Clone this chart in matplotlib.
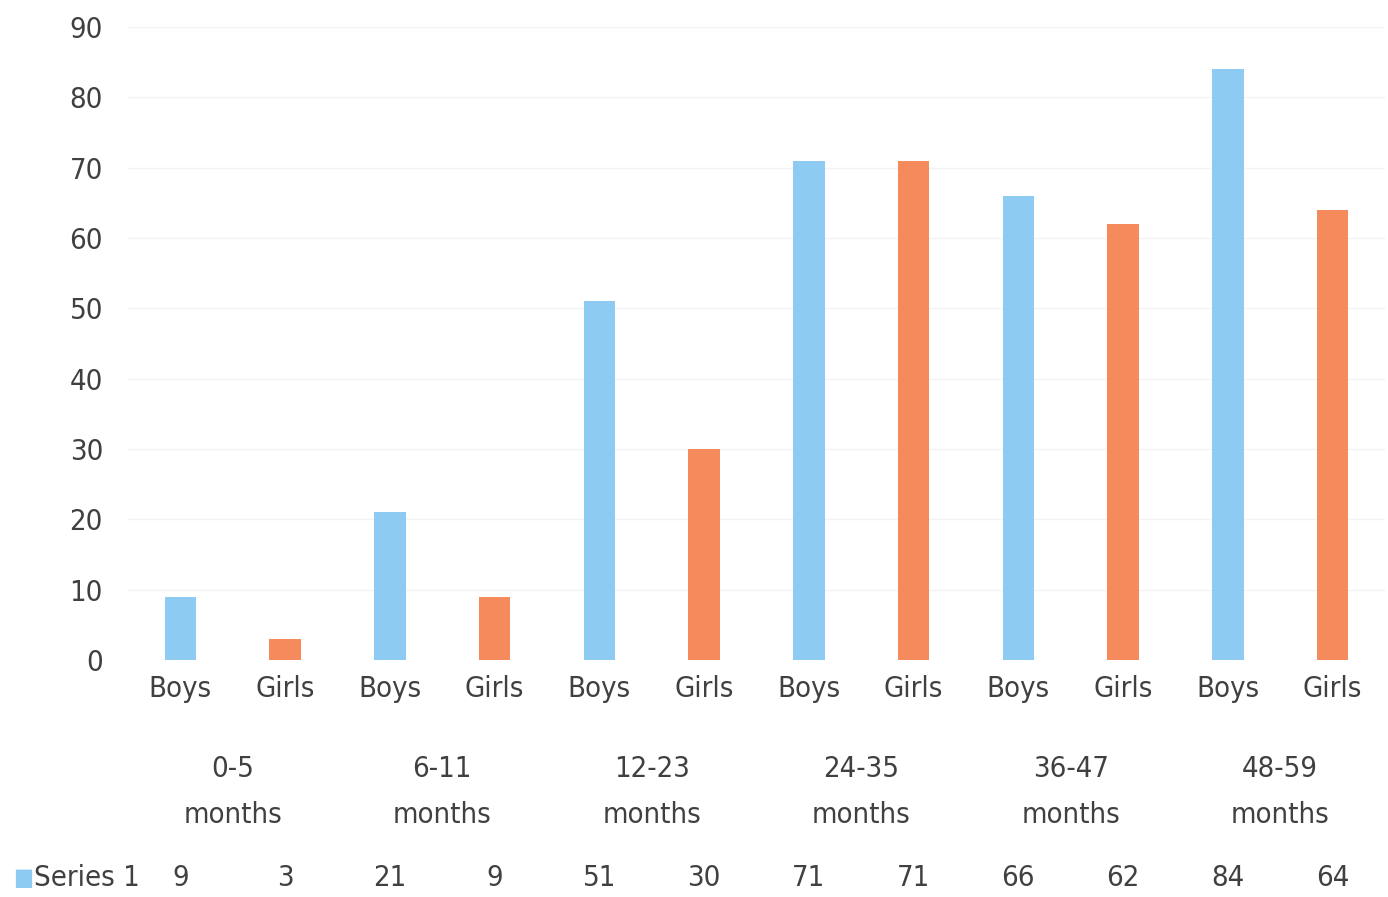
import matplotlib
matplotlib.use("Agg")
import matplotlib.pyplot as plt
import numpy as np

plt.rcParams['font.family'] = ['DejaVu Sans']
plt.rcParams['font.stretch'] = 'condensed'

groups = ["0-5\nmonths", "6-11\nmonths", "12-23\nmonths", "24-35\nmonths",
          "36-47\nmonths", "48-59\nmonths"]
sexes = ["Boys", "Girls"]
values = [9, 3, 21, 9, 51, 30, 71, 71, 66, 62, 84, 64]
series_name = "Series 1"
yticks = [0, 10, 20, 30, 40, 50, 60, 70, 80, 90]

blue = "#8DCBF2"
orange = "#F58B5C"
text_col = "#404040"
fs = 21

fig = plt.figure(figsize=(13.88, 8.97), dpi=100)
ax = fig.add_axes([128 / 1388, 237 / 897, 1257 / 1388, 633 / 897])

x = np.arange(len(values))
colors = [blue if i % 2 == 0 else orange for i in range(len(values))]
ax.bar(x, values, width=0.3, color=colors, zorder=3)

ax.set_xlim(-0.5, len(values) - 0.5)
ax.set_ylim(0, 90)
ax.set_yticks(yticks)
ax.set_yticklabels([str(t) for t in yticks], fontsize=fs, color=text_col)
ax.tick_params(axis='y', length=0, pad=18)
ax.grid(axis='y', color="#f3f3f3", linewidth=1, zorder=0)

labels = [sexes[i % 2] for i in range(len(values))]
ax.set_xticks(x)
ax.set_xticklabels(labels, fontsize=fs, color=text_col)
ax.tick_params(axis='x', length=0, pad=11)

for s in ax.spines.values():
    s.set_visible(False)

trans = ax.get_xaxis_transform()
for g, name in enumerate(groups):
    cx = 2 * g + 0.5
    top, bottom = name.split("\n")
    ax.text(cx, -0.172, top, transform=trans, ha='center', va='center',
            fontsize=fs, color=text_col)
    ax.text(cx, -0.245, bottom, transform=trans, ha='center', va='center',
            fontsize=fs, color=text_col)

# data table row
row_y = -0.344
for i, v in enumerate(values):
    ax.text(i, row_y, str(v), transform=trans, ha='center', va='center',
            fontsize=fs, color=text_col)
fig.text(13 / 1388, 1 - 878 / 897, "\u25A0", fontsize=17, color=blue,
         ha='left', va='center')
fig.text(34 / 1388, 1 - 878 / 897, series_name, fontsize=fs, color=text_col,
         ha='left', va='center')

fig.savefig("out.png", dpi=100, facecolor="white")
